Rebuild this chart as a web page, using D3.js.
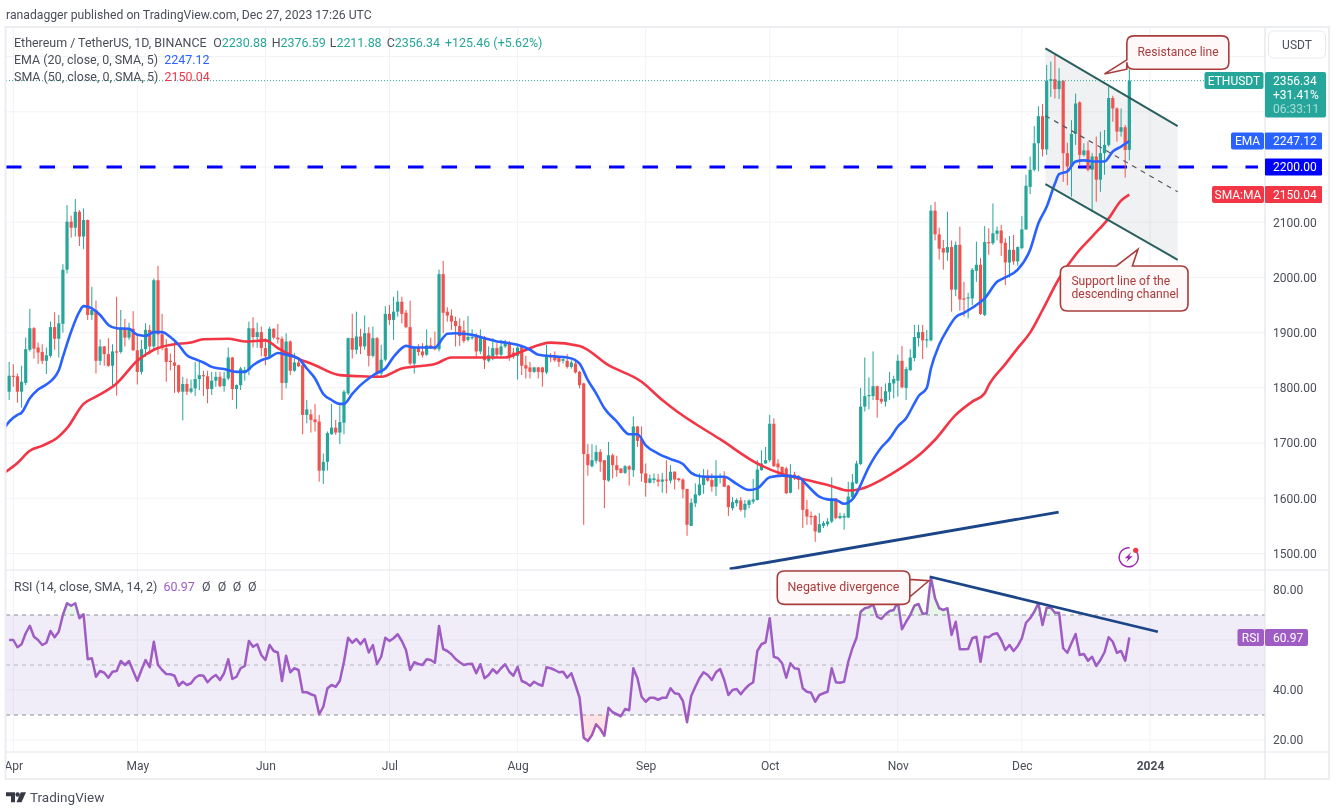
<!DOCTYPE html>
<html>
<head>
<meta charset="utf-8">
<style>
  html, body { margin: 0; background: #fff; }
  svg { display: block; filter: blur(0.35px); }
  text { font-family: Roboto, sans-serif; }
</style>
</head>
<body>
<svg id="chart" width="1337" height="810"></svg>
<script src="https://cdn.jsdelivr.net/npm/d3@7"></script>
<script>
// candles are one per day, index 0 is 2023-03-31
var firstDay = Date.UTC(2023, 2, 31);

var opens = [
  1793,1822,1821,1793,1809,1869,1908,1873,1865,1849,
  1858,1910,1889,1916,2014,2101,2090,2119,2074,2104,
  1932,1941,1849,1875,1861,1840,1866,1865,1907,1891,
  1907,1868,1829,1870,1905,1875,1995,1897,1872,1849,
  1846,1841,1793,1807,1793,1799,1816,1823,1821,1798,
  1813,1820,1803,1817,1855,1798,1805,1828,1832,1908,
  1892,1901,1872,1857,1907,1891,1889,1809,1884,1831,
  1846,1841,1751,1752,1743,1739,1650,1666,1716,1728,
  1719,1737,1790,1890,1869,1893,1875,1899,1858,1890,
  1826,1851,1934,1923,1938,1956,1936,1910,1844,1874,
  1866,1860,1877,1873,1870,2006,1938,1931,1921,1912,
  1904,1887,1890,1894,1866,1892,1849,1857,1872,1860,
  1875,1882,1864,1858,1875,1841,1837,1829,1837,1837,
  1828,1858,1858,1855,1849,1849,1838,1844,1829,1808,
  1680,1658,1668,1684,1669,1632,1678,1660,1654,1646,
  1658,1651,1730,1707,1645,1628,1633,1634,1630,1634,
  1632,1648,1636,1634,1617,1550,1591,1606,1624,1641,
  1633,1621,1637,1639,1623,1582,1591,1596,1579,1588,
  1594,1597,1651,1663,1669,1735,1663,1657,1654,1610,
  1643,1639,1636,1580,1568,1568,1538,1550,1553,1558,
  1600,1564,1565,1565,1602,1627,1662,1766,1785,1785,
  1803,1780,1775,1793,1808,1813,1849,1800,1832,1854,
  1890,1901,1886,1886,2121,2078,2053,2045,2055,1978,
  2059,1962,1962,1962,2012,2023,1932,2064,2062,2079,
  2085,2063,2027,2050,2029,2053,2087,2164,2195,2243,
  2292,2232,2356,2359,2341,2356,2225,2201,2260,2317,
  2222,2230,2195,2219,2177,2225,2240,2325,2306,2264,
  2272,2231
];
var highs = [
  1847,1843,1826,1840,1891,1943,1910,1882,1879,1873,
  1920,1937,1932,2024,2131,2112,2142,2122,2125,2105,
  1983,1958,1888,1876,1890,1879,1965,1941,1925,1918,
  1939,1898,1887,1917,1914,1998,2021,1934,1888,1862,
  1887,1842,1820,1817,1815,1847,1847,1831,1831,1829,
  1829,1829,1829,1873,1856,1806,1838,1838,1920,1928,
  1918,1911,1890,1911,1908,1916,1893,1899,1886,1863,
  1856,1846,1778,1761,1771,1751,1681,1721,1771,1742,
  1771,1796,1891,1934,1938,1907,1931,1910,1911,1892,
  1878,1948,1950,1965,1976,1965,1941,1958,1876,1879,
  1881,1906,1891,1902,2014,2030,1946,1942,1929,1926,
  1922,1930,1906,1899,1906,1894,1875,1890,1881,1887,
  1887,1885,1872,1878,1878,1858,1847,1838,1838,1838,
  1878,1863,1866,1857,1857,1861,1850,1853,1831,1809,
  1698,1698,1696,1689,1669,1702,1681,1677,1654,1660,
  1660,1748,1731,1730,1663,1643,1645,1644,1646,1669,
  1660,1649,1637,1636,1617,1600,1627,1645,1653,1652,
  1645,1669,1645,1649,1624,1602,1600,1602,1597,1598,
  1635,1669,1687,1693,1751,1745,1671,1657,1657,1662,
  1648,1642,1637,1597,1576,1570,1573,1559,1564,1638,
  1600,1574,1573,1630,1644,1668,1800,1855,1819,1866,
  1804,1802,1808,1829,1822,1860,1876,1838,1870,1914,
  1914,1914,1905,2131,2137,2090,2068,2119,2067,2065,
  2092,1992,1972,2017,2065,2035,2093,2089,2134,2092,
  2095,2071,2075,2077,2056,2111,2186,2219,2274,2310,
  2314,2385,2391,2403,2379,2357,2244,2285,2333,2319,
  2243,2246,2225,2255,2264,2267,2345,2329,2308,2306,
  2276,2377
];
var lows = [
  1778,1802,1773,1764,1805,1866,1853,1843,1843,1825,
  1855,1869,1855,1900,2007,2072,2074,2057,2051,1923,
  1923,1826,1841,1840,1838,1803,1786,1862,1875,1887,
  1867,1806,1824,1856,1861,1868,1860,1868,1811,1832,
  1791,1790,1741,1787,1790,1785,1796,1785,1772,1787,
  1802,1801,1793,1814,1778,1762,1796,1813,1823,1873,
  1873,1857,1841,1854,1888,1880,1778,1799,1823,1829,
  1838,1716,1736,1719,1721,1630,1626,1650,1715,1715,
  1698,1716,1787,1853,1861,1861,1869,1839,1855,1821,
  1821,1848,1914,1887,1929,1917,1908,1841,1826,1858,
  1855,1858,1870,1868,1866,1899,1920,1905,1875,1876,
  1881,1884,1887,1855,1861,1834,1846,1850,1855,1857,
  1872,1849,1853,1815,1823,1817,1817,1827,1817,1802,
  1825,1847,1847,1838,1844,1835,1835,1826,1799,1552,
  1641,1656,1663,1648,1582,1630,1636,1639,1645,1644,
  1623,1639,1693,1630,1603,1627,1627,1621,1610,1609,
  1627,1616,1630,1600,1532,1550,1584,1604,1608,1630,
  1612,1604,1627,1620,1568,1578,1585,1576,1565,1582,
  1590,1596,1650,1663,1666,1657,1639,1639,1608,1609,
  1633,1616,1546,1552,1552,1521,1538,1546,1549,1555,
  1562,1562,1543,1564,1600,1626,1660,1757,1761,1778,
  1746,1771,1766,1778,1781,1784,1799,1778,1831,1848,
  1875,1852,1873,1884,2067,2032,2014,2030,1938,1966,
  1940,1929,1926,1950,1992,1932,1930,2041,2059,2067,
  2039,1986,2000,2023,2021,2051,2086,2151,2192,2192,
  2219,2222,2327,2324,2323,2173,2167,2146,2240,2204,
  2219,2192,2119,2137,2155,2186,2237,2282,2246,2255,
  2181,2212
];
var closes = [
  1822,1821,1793,1811,1870,1908,1871,1864,1849,1859,
  1910,1889,1917,2014,2101,2090,2119,2074,2104,1932,
  1941,1849,1875,1861,1840,1866,1865,1907,1891,1907,
  1868,1829,1870,1905,1875,1995,1897,1872,1847,1847,
  1840,1793,1807,1793,1799,1816,1823,1821,1798,1813,
  1820,1803,1817,1855,1798,1805,1835,1832,1908,1892,
  1901,1872,1857,1907,1891,1888,1809,1884,1831,1846,
  1839,1751,1761,1742,1738,1650,1666,1718,1728,1719,
  1738,1793,1890,1869,1893,1875,1899,1858,1890,1825,
  1851,1934,1923,1938,1956,1934,1910,1844,1874,1865,
  1859,1877,1873,1870,2006,1936,1931,1920,1912,1894,
  1885,1892,1892,1866,1894,1850,1859,1872,1860,1875,
  1881,1857,1857,1873,1840,1835,1829,1837,1829,1828,
  1860,1855,1850,1847,1852,1838,1846,1828,1805,1680,
  1660,1669,1684,1666,1633,1678,1660,1651,1646,1658,
  1652,1730,1704,1645,1628,1636,1636,1630,1634,1633,
  1648,1634,1633,1616,1552,1592,1607,1625,1641,1632,
  1621,1638,1639,1621,1584,1593,1597,1579,1590,1596,
  1598,1652,1663,1669,1735,1658,1656,1644,1609,1643,
  1636,1633,1579,1567,1567,1540,1553,1555,1558,1600,
  1564,1568,1568,1603,1629,1663,1766,1785,1787,1803,
  1778,1775,1794,1809,1816,1849,1801,1834,1855,1892,
  1901,1886,1888,2121,2078,2052,2045,2055,1978,2059,
  1960,1960,1964,2014,2023,1934,2064,2063,2080,2085,
  2062,2027,2050,2029,2055,2087,2166,2195,2243,2292,
  2232,2356,2359,2341,2356,2225,2201,2260,2315,2222,
  2230,2195,2219,2177,2225,2240,2325,2306,2264,2272,
  2231,2356.34
];
var rsiValues = [
  60,60,57.1,58.3,62.7,65.7,61.3,60,58,58.9,
  63.6,61.1,63.3,70,74.7,73.7,74.7,68.7,70.3,52.3,
  52.7,45.3,47.6,46.9,44.9,47.3,47.6,51.6,50,51.6,
  47.6,43.7,48,52,49.1,59.3,50,48,46.4,46.3,
  45.7,41.7,43.3,42,42.7,44.9,45.9,45.7,43.1,44.9,
  46,44,46.7,52.3,44.4,45.3,48.7,49.6,59.6,57.3,
  58.3,54,52,58,55.6,55,43.6,53.7,47.1,48.7,
  48,39.1,39.1,38.3,37.7,30.3,33.3,40.7,42,41.3,
  43.7,51.3,60.9,58.9,60.4,58.3,60.4,55,58,50.4,
  53.3,60.9,59.6,60.7,62.3,59.6,56,48,51.1,50.4,
  50,52.3,52,50.9,65.6,56.4,55.6,54.3,52.4,51.1,
  50,50.4,50.5,46.7,50.3,44.7,46,48.3,46.7,48.7,
  50.3,47.3,45.7,49.3,43.6,42.9,41.7,43.3,42.3,41.7,
  49.1,48.7,48,47.1,47.3,44.9,46.7,42,36.9,20.9,
  19.6,22,26.3,24.4,21.7,32.9,31.1,30.3,29.5,32.4,
  31.9,48.7,44.7,37.3,35.3,36.9,36.9,36.1,36.9,36.9,
  40.7,38.7,38.4,35.6,27.1,37.6,41.3,44.7,47.1,46,
  44,47.1,48.4,44,38,40,40.4,38.3,40.4,42,
  43.1,55.6,58.3,59.1,68.7,53.3,52.7,50.7,44.9,50.7,
  48.7,48.4,40.7,39.3,38.9,35.3,38,38.7,39.3,48.7,
  43.1,42.9,43.3,51.3,56.7,60.9,71.3,72.7,73.1,74.3,
  69.3,68.4,70.3,71.6,72,75.3,64.3,67.3,70,73.7,
  74.4,70.4,70.7,85,76.7,72.7,72,72.7,62,67.3,
  56.3,56.3,56.4,60.7,61.3,51.3,61.3,61.1,62.3,62.7,
  60,56,58,55.6,57.6,60.7,66.9,68.7,71.3,74.7,
  66,72.9,72.9,70.9,70.9,56.7,54.9,58.7,62.4,54,
  54.4,51.7,53.3,49.6,52,55.1,61.1,59.3,54.9,55.6,
  51.7,60.97
];

var emaDays = [-1,0,2,3,5,7,9,12,13,15,17,18,20,22,24,26,29,31,33,35,37,39,41,43,45,47,49,52,55,57,59,61,63,65,67,70,72,74,76,78,80,81,83,85,87,89,91,93,95,96,98,103,105,106,108,110,112,115,118,120,123,126,128,132,135,137,138,140,142,144,147,150,152,154,157,160,163,165,167,170,173,176,179,181,184,187,191,193,196,198,200,202,204,205,208,211,213,215,217,219,220,222,223,225,227,229,231,234,236,239,241,244,247,249,251,253,254,256,258,260,263,265,267,269,271];
var emaValues = [1729,1739,1751,1755,1781,1797,1806,1832,1856,1902,1938,1948,1944,1932,1914,1908,1907,1896,1894,1901,1901,1892,1878,1859,1852,1846,1838,1834,1829,1829,1841,1850,1855,1863,1860,1853,1835,1817,1789,1778,1771,1771,1789,1805,1817,1827,1835,1856,1872,1876,1873,1873,1891,1898,1899,1898,1896,1890,1884,1882,1878,1869,1860,1857,1855,1850,1844,1814,1790,1763,1739,1716,1716,1696,1681,1671,1662,1646,1640,1639,1639,1626,1615,1618,1638,1641,1638,1624,1603,1598,1597,1590,1598,1609,1657,1692,1708,1730,1745,1772,1785,1800,1835,1878,1906,1928,1936,1950,1962,1992,2000,2014,2050,2098,2128,2170,2187,2192,2210,2212,2210,2210,2228,2237,2247.12];
var smaDays = [-1,2,5,8,12,14,18,21,26,31,35,40,44,47,53,57,62,65,70,74,80,85,90,95,103,107,113,120,124,131,138,145,153,158,162,166,172,181,187,193,199,203,206,213,216,221,224,229,233,236,237,241,244,247,250,254,258,262,266,269,271];
var smaValues = [1647,1664,1686,1695,1712,1727,1771,1784,1808,1849,1869,1879,1882,1888,1889,1884,1886,1872,1853,1841,1823,1821,1820,1835,1843,1855,1855,1855,1866,1882,1876,1841,1811,1778,1755,1735,1707,1663,1644,1633,1622,1614,1617,1642,1656,1684,1706,1751,1775,1790,1805,1843,1872,1900,1941,1998,2041,2074,2107,2139,2150.04];

// drawn lines, as [day index, value]
var channelDays = [250.7, 282.7];
var channelTop = [2415, 2274];
var channelMid = [2293, 2155];
var channelBottom = [2169, 2032];
var trendDays = [174.3, 253.9];
var trendPrices = [1472, 1575];
var rsiTrendDays = [222.7, 277.9];
var rsiTrendValues = [85.3, 63.3];

var monthTicks = [[2023,3,"Apr"],[2023,4,"May"],[2023,5,"Jun"],[2023,6,"Jul"],[2023,7,"Aug"],[2023,8,"Sep"],[2023,9,"Oct"],[2023,10,"Nov"],[2023,11,"Dec"],[2024,0,"2024"]];
var priceGrid = [1500,1600,1700,1800,1900,2000,2100,2200,2300,2400];
var priceLabels = [1500,1600,1700,1800,1900,2000,2100];
var rsiGrid = [20,40,60,80];
var rsiLabels = [20,40,80];

var teal = "#26a69a", red = "#ef5350", blue = "#2962ff", maRed = "#f23645", purple = "#9f5cc4", note = "#a93c3c";
var left = 6, axisX = 1265, frameRight = 1329, top0 = 28, paneY = 570, timeY = 752, frameBottom = 779;

var svg = d3.select("#chart");
var defs = svg.append("defs");

function dayDate(k) { return new Date(firstDay + k * 864e5); }

var x = d3.scaleUtc()
    .domain([Date.UTC(2023, 3, 1), Date.UTC(2024, 0, 1)])
    .range([13.3, 1150]);
var y = d3.scaleLinear().domain([1500, 2200]).range([553.5, 167]);
var yRsi = d3.scaleLinear().domain([20, 80]).range([740, 590]);

function clip(id, cx, cy, w, h) {
  defs.append("clipPath").attr("id", id).append("rect")
      .attr("x", cx).attr("y", cy).attr("width", w).attr("height", h);
}
clip("main-clip", left, top0, axisX - left, paneY - top0);
clip("rsi-clip", left, paneY, axisX - left, timeY - paneY);
clip("over-clip", left, paneY, axisX - left, yRsi(70) - paneY);
clip("under-clip", left, yRsi(30), axisX - left, timeY - yRsi(30));

// grid
var grid = svg.append("g").attr("stroke", "#f1f2f5").attr("stroke-width", 1);
grid.selectAll(".gx").data(monthTicks).enter().append("line")
    .attr("x1", function(d) { return x(Date.UTC(d[0], d[1], 1)); })
    .attr("x2", function(d) { return x(Date.UTC(d[0], d[1], 1)); })
    .attr("y1", top0).attr("y2", timeY);
grid.selectAll(".gy").data(priceGrid).enter().append("line")
    .attr("x1", left).attr("x2", axisX)
    .attr("y1", function(d) { return y(d); })
    .attr("y2", function(d) { return y(d); });
grid.selectAll(".gr").data(rsiGrid).enter().append("line")
    .attr("x1", left).attr("x2", axisX)
    .attr("y1", function(d) { return yRsi(d); })
    .attr("y2", function(d) { return yRsi(d); });

var main = svg.append("g").attr("clip-path", "url(#main-clip)");

// channel shading and the 2200 level go under the candles
var channelArea = d3.area()
    .x(function(d, i) { return x(dayDate(channelDays[i])); })
    .y0(function(d, i) { return y(channelBottom[i]); })
    .y1(function(d) { return y(d); });
main.append("path").attr("d", channelArea(channelTop)).attr("fill", "#787b86").attr("fill-opacity", 0.11);
main.append("line").attr("x1", left).attr("x2", 1258).attr("y1", y(2200)).attr("y2", y(2200))
    .attr("stroke", "#0000ff").attr("stroke-width", 3).attr("stroke-dasharray", "15.5 18");

// candles
var candles = main.selectAll(".candle").data(closes).enter().append("g").attr("class", "candle")
    .attr("fill", function(d, i) { return d >= opens[i] ? teal : red; })
    .attr("stroke", function(d, i) { return d >= opens[i] ? teal : red; });
candles.append("line")
    .attr("x1", function(d, i) { return x(dayDate(i)); })
    .attr("x2", function(d, i) { return x(dayDate(i)); })
    .attr("y1", function(d, i) { return y(highs[i]); })
    .attr("y2", function(d, i) { return y(lows[i]); })
    .attr("stroke-width", 1);
candles.append("rect")
    .attr("stroke", "none")
    .attr("x", function(d, i) { return x(dayDate(i)) - 1.6; })
    .attr("width", 3.2)
    .attr("y", function(d, i) { return y(Math.max(d, opens[i])); })
    .attr("height", function(d, i) { return Math.max(1.2, Math.abs(y(d) - y(opens[i]))); });

// moving averages
function maLine(days, values, color) {
  var line = d3.line()
      .x(function(d, i) { return x(dayDate(days[i])); })
      .y(function(d) { return y(d); })
      .curve(d3.curveMonotoneX);
  main.append("path").attr("d", line(values)).attr("fill", "none")
      .attr("stroke", color).attr("stroke-width", 2.6).attr("stroke-linejoin", "round");
}
maLine(smaDays, smaValues, maRed);
maLine(emaDays, emaValues, blue);

// current price line
var lastY = y(closes[closes.length - 1]);
svg.append("line").attr("x1", left).attr("x2", 1205).attr("y1", lastY).attr("y2", lastY)
    .attr("stroke", teal).attr("stroke-width", 1).attr("stroke-dasharray", "1 2");

function twoPoint(days, values, scale, color, width, dash, parent) {
  var line = d3.line()
      .x(function(d, i) { return x(dayDate(days[i])); })
      .y(function(d) { return scale(d); });
  var p = parent.append("path").attr("d", line(values)).attr("fill", "none")
      .attr("stroke", color).attr("stroke-width", width);
  if (dash) p.attr("stroke-dasharray", dash);
}
twoPoint(channelDays, channelTop, y, "#2a5f60", 2, null, main);
twoPoint(channelDays, channelBottom, y, "#2a5f60", 2, null, main);
twoPoint(channelDays, channelMid, y, "#555a60", 1.2, "5 5", main);
twoPoint(trendDays, trendPrices, y, "#1c4587", 2.8, null, main);

// RSI pane
var rsiPane = svg.append("g").attr("clip-path", "url(#rsi-clip)");
rsiPane.append("rect").attr("x", left).attr("width", axisX - left)
    .attr("y", yRsi(70)).attr("height", yRsi(30) - yRsi(70))
    .attr("fill", "#7e57c2").attr("fill-opacity", 0.11);
[[70, "#8a8d96"], [50, "#b4b6bd"], [30, "#8a8d96"]].forEach(function(level) {
  rsiPane.append("line").attr("x1", left).attr("x2", axisX)
      .attr("y1", yRsi(level[0])).attr("y2", yRsi(level[0]))
      .attr("stroke", level[1]).attr("stroke-width", 1).attr("stroke-dasharray", "4 4");
});
var rsiX = function(d, i) { return x(dayDate(i)); };
function rsiFill(level, color, clipId) {
  var area = d3.area().x(rsiX).y0(yRsi(level)).y1(function(d) { return yRsi(d); });
  svg.append("path").attr("d", area(rsiValues)).attr("fill", color).attr("clip-path", "url(#" + clipId + ")");
}
rsiFill(30, "rgba(242,54,69,0.14)", "under-clip");
rsiFill(70, "rgba(76,175,80,0.12)", "over-clip");
rsiPane.append("path")
    .attr("d", d3.line().x(rsiX).y(function(d) { return yRsi(d); })(rsiValues))
    .attr("fill", "none").attr("stroke", purple).attr("stroke-width", 2.5).attr("stroke-linejoin", "round");
twoPoint(rsiTrendDays, rsiTrendValues, yRsi, "#1c4587", 2.8, null, svg);

// frame
var frame = svg.append("g").attr("stroke", "#e3e5ec").attr("fill", "none");
frame.append("rect").attr("x", 5.5).attr("y", 27).attr("width", frameRight - 5.5).attr("height", frameBottom - 27)
    .attr("stroke", "#eceef2").attr("stroke-width", 2);
[[left, paneY, frameRight, paneY], [left, timeY, frameRight, timeY], [axisX, top0, axisX, frameBottom]].forEach(function(s) {
  frame.append("line").attr("x1", s[0]).attr("y1", s[1]).attr("x2", s[2]).attr("y2", s[3]).attr("stroke-width", 1.2);
});

// axes
var axisText = "#4a4e59";
function styleAxis(g) {
  g.select(".domain").remove();
  g.selectAll(".tick line").remove();
  g.selectAll("text").attr("fill", axisText).attr("font-size", 12).attr("font-family", "Roboto, sans-serif");
}
svg.append("g").attr("transform", "translate(" + axisX + ",0)")
    .call(d3.axisRight(y).tickValues(priceLabels).tickFormat(d3.format(".2f")).tickSize(0).tickPadding(8))
    .call(styleAxis);
svg.append("g").attr("transform", "translate(" + axisX + ",0)")
    .call(d3.axisRight(yRsi).tickValues(rsiLabels).tickFormat(d3.format(".2f")).tickSize(0).tickPadding(8))
    .call(styleAxis);
var timeAxis = svg.append("g").attr("clip-path", "url(#time-clip)").attr("transform", "translate(0," + timeY + ")")
    .call(d3.axisBottom(x)
        .tickValues(monthTicks.map(function(d) { return new Date(Date.UTC(d[0], d[1], 1)); }))
        .tickFormat(function(d, i) { return monthTicks[i][2]; })
        .tickSize(0).tickPadding(9))
    .call(styleAxis);
timeAxis.selectAll("text").filter(function(d, i) { return i === monthTicks.length - 1; }).attr("font-weight", "bold");
clip("time-clip", left, 0, 1300, 40);

// side labels
function priceTag(value, text, fill, labelText, labelLeft) {
  var cy = y(value);
  svg.append("rect").attr("x", axisX).attr("y", cy - 8.5).attr("width", 57).attr("height", 17).attr("fill", fill).attr("rx", 1);
  svg.append("text").attr("x", axisX + 8).attr("y", cy + 4.2).attr("fill", "#fff").attr("font-size", 12).text(text);
  if (labelText) {
    svg.append("rect").attr("x", labelLeft).attr("y", cy - 8.5).attr("width", axisX - 1 - labelLeft).attr("height", 17).attr("fill", fill).attr("rx", 2);
    svg.append("text").attr("x", (labelLeft + axisX - 1) / 2).attr("y", cy + 4.2).attr("text-anchor", "middle")
        .attr("fill", "#fff").attr("font-size", 12).text(labelText);
  }
}
priceTag(emaValues[emaValues.length - 1], "2247.12", blue, "EMA", 1231);
priceTag(2200, "2200.00", "#0000ff");
priceTag(smaValues[smaValues.length - 1], "2150.04", maRed, "SMA:MA", 1212);

svg.append("rect").attr("x", 1204.5).attr("y", 72).attr("width", 59).attr("height", 17).attr("fill", teal).attr("rx", 2);
svg.append("text").attr("x", 1234).attr("y", 84.5).attr("text-anchor", "middle").attr("fill", "#fff").attr("font-size", 12).text("ETHUSDT");
svg.append("rect").attr("x", axisX).attr("y", 72).attr("width", 61).attr("height", 45.5).attr("fill", teal).attr("rx", 2);
[["2356.34", 84.5, 1], ["+31.41%", 98.5, 1], ["06:33:11", 113, 0.6]].forEach(function(t) {
  svg.append("text").attr("x", axisX + 8).attr("y", t[1]).attr("fill", "#fff").attr("fill-opacity", t[2]).attr("font-size", 12).text(t[0]);
});

svg.append("rect").attr("x", 1268.5).attr("y", 31).attr("width", 57).attr("height", 27).attr("rx", 5)
    .attr("fill", "#fff").attr("stroke", "#e6e8ee");
svg.append("text").attr("x", 1297).attr("y", 49).attr("text-anchor", "middle").attr("fill", axisText).attr("font-size", 12).text("USDT");

svg.append("rect").attr("x", 1237.5).attr("y", yRsi(60.97) - 8.5).attr("width", 26.5).attr("height", 17).attr("fill", purple).attr("rx", 2);
svg.append("text").attr("x", 1250.7).attr("y", yRsi(60.97) + 4.2).attr("text-anchor", "middle").attr("fill", "#fff").attr("font-size", 12).text("RSI");
svg.append("rect").attr("x", axisX).attr("y", yRsi(60.97) - 8.5).attr("width", 43).attr("height", 17).attr("fill", purple).attr("rx", 2);
svg.append("text").attr("x", axisX + 8).attr("y", yRsi(60.97) + 4.2).attr("fill", "#fff").attr("font-size", 12).text("60.97");

// callouts, placed relative to the day/value they point at
function bubble(tipX, tipY, box, side, a, b) {
  var p = d3.path(), r = 7;
  var l = tipX + box[0], t = tipY + box[1], rt = tipX + box[2], bt = tipY + box[3];
  p.moveTo(l + r, t);
  if (side === "top") { p.lineTo(tipX + a, t); p.lineTo(tipX, tipY); p.lineTo(tipX + b, t); }
  p.lineTo(rt - r, t);
  p.quadraticCurveTo(rt, t, rt, t + r);
  if (side === "right") { p.lineTo(rt, tipY + a); p.lineTo(tipX, tipY); p.lineTo(rt, tipY + b); }
  p.lineTo(rt, bt - r);
  p.quadraticCurveTo(rt, bt, rt - r, bt);
  p.lineTo(l + r, bt);
  p.quadraticCurveTo(l, bt, l, bt - r);
  if (side === "left") { p.lineTo(l, tipY + a); p.lineTo(tipX, tipY); p.lineTo(l, tipY + b); }
  p.lineTo(l, t + r);
  p.quadraticCurveTo(l, t, l + r, t);
  p.closePath();
  svg.append("path").attr("d", p.toString()).attr("fill", "#fff8f8").attr("stroke", note).attr("stroke-width", 1.6);
}
function noteText(tx, ty, anchor, s, size) {
  svg.append("text").attr("x", tx).attr("y", ty).attr("text-anchor", anchor).attr("fill", note).attr("font-size", size).text(s);
}
var rx = x(dayDate(265)), ry = y(2368.6);
bubble(rx, ry, [22.3, -38, 124.3, -4.7], "left", -4.7, -14);
noteText(rx + 73.5, ry - 17.5, "middle", "Resistance line", 12.1);

var sx = x(dayDate(273.1)), sy = y(2051);
bubble(sx, sy, [-77.6, 16.7, 50, 61.7], "top", -21.6, -5.6);
noteText(sx - 66.6, sy + 36, "start", "Support line of the", 12.1);
noteText(sx - 66.6, sy + 49, "start", "descending channel", 12.1);

var nx = x(dayDate(222.5)), ny = yRsi(83.7);
bubble(nx, ny, [-151.6, -9.7, -19, 23.6], "right", 16, -1.4);
noteText(nx - 85.5, ny + 10.5, "middle", "Negative divergence", 12.4);

// legend
function legend(tx, ty, s, fill, size) {
  return svg.append("text").attr("x", tx).attr("y", ty).attr("fill", fill).attr("font-size", size || 12.45).text(s);
}
var legendGrey = "#4a4e59";
legend(6, 19, "ranadagger published on TradingView.com, Dec 27, 2023 17:26 UTC", "#4a4e59", 12.2);
legend(14, 47, "Ethereum / TetherUS, 1D, BINANCE", legendGrey);
var ohlc = [[213.3, "O", "2230.88"], [271.7, "H", "2376.59"], [329.7, "L", "2211.88"], [386.7, "C", "2356.34"], [445, "", "+125.46 (+5.62%)"]];
ohlc.forEach(function(d) {
  var row = legend(d[0], 47, d[1], legendGrey);
  row.append("tspan").attr("fill", teal).text(d[2]);
});
var emaRow = legend(14, 64, "EMA (20, close, 0, SMA, 5)  ", legendGrey).style("white-space", "pre");
emaRow.append("tspan").attr("fill", blue).text("2247.12");
var smaRow = legend(14, 81, "SMA (50, close, 0, SMA, 5)  ", legendGrey).style("white-space", "pre");
smaRow.append("tspan").attr("fill", maRed).text("2150.04");
var rsiRow = legend(14, 591, "RSI (14, close, SMA, 14, 2)  ", legendGrey).style("white-space", "pre");
rsiRow.append("tspan").attr("fill", purple).text("60.97");
[202, 217.7, 232.7, 248].forEach(function(tx) { legend(tx, 591, "Ø", legendGrey); });

// alert icon
var icon = svg.append("g").attr("transform", "translate(1128.7,557.3)");
icon.append("path")
    .attr("d", d3.arc().innerRadius(8.8).outerRadius(10.2).startAngle(0.9).endAngle(Math.PI * 2 + 0.1)())
    .attr("fill", "#9c27b0");
icon.append("path").attr("d", "M2.5,-5 L-4,1 L-0.5,1 L-2.5,5 L4,-1 L0.5,-1 Z").attr("fill", "#9c27b0");
svg.append("circle").attr("cx", 1135.7).attr("cy", 550.3).attr("r", 2.6).attr("fill", "#f23645");

// footer logo
var logo = svg.append("g").attr("fill", "#363a45");
logo.append("path").attr("d", "M6,792.3 H15 V802.3 H11 V796.3 H6 Z");
logo.append("circle").attr("cx", 17.6).attr("cy", 794.5).attr("r", 2.2);
logo.append("path").attr("d", "M20.8,792.3 H26 L21.5,802.3 H16.5 Z");
svg.append("text").attr("x", 30).attr("y", 802).attr("fill", "#4a4e59").attr("font-size", 13.5).text("TradingView");
</script>
</body>
</html>
